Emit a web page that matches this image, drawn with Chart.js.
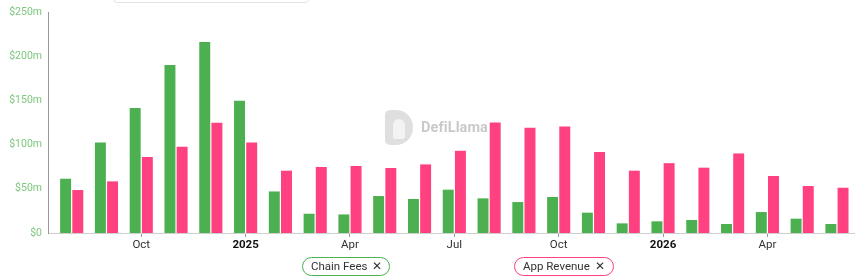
<!DOCTYPE html>
<html>
<head>
<meta charset="utf-8">
<script src="https://cdn.jsdelivr.net/npm/chart.js@4.4.1/dist/chart.umd.min.js"></script>
<style>
  html, body { margin: 0; padding: 0; background: #fff; }
  #wrap { position: relative; width: 860px; height: 277px; overflow: hidden; font-family: Roboto, "Open Sans", sans-serif; }
  #c { position: absolute; left: 0; top: 0; }
  .topbox { position: absolute; left: 113px; top: -20px; width: 194px; height: 21px; border: 1px solid #e2e2e2; border-radius: 4px; }
  .pill { position: absolute; top: 257px; height: 17px; border-radius: 11px; box-sizing: content-box; font-size: 11.5px; color: #333; line-height: 17px; padding: 0 0 0 8px; white-space: nowrap; }
  .pill .x { position: absolute; top: 0; font-size: 11.5px; color: #333; }
  .wm { position: absolute; left: 385px; top: 110px; width: 110px; height: 36px; opacity: 0.9; }
  .wm .logo { position: absolute; left: 0; top: 0; width: 28px; height: 35px; background: #dcdcdc; border-radius: 5px 17px 17px 5px; }
  .wm .logo .face { position: absolute; left: 8px; top: 9px; width: 12px; height: 20px; background: #f2f2f2; border-radius: 6px 6px 2px 2px; }
  .wm .txt { position: absolute; left: 36px; top: 9px; font-size: 14.5px; font-weight: bold; color: #c4c4c4; letter-spacing: 0.1px; }
</style>
</head>
<body>
<div id="wrap">
  <canvas id="c" width="860" height="277"></canvas>
  <div class="topbox"></div>
  <div class="wm"><div class="logo"><div class="face"></div></div><div class="txt">DefiLlama</div></div>
  <div class="pill" id="p1" style="left:302px;width:78px;border:1.5px solid #4caf50;">Chain Fees<span class="x" style="left:69px;">✕</span></div>
  <div class="pill" id="p2" style="left:514px;width:90px;border:1.5px solid #ff4081;">App Revenue<span class="x" style="left:80px;">✕</span></div>
</div>
<script>
const months = ['Aug','Sep','Oct','Nov','Dec','2025','Feb','Mar','Apr','May','Jun','Jul','Aug','Sep','Oct','Nov','Dec','2026','Feb','Mar','Apr','May','Jun'];
const chainFees = [61.4,102.5,141.4,190,216,149.7,47,21.8,21,41.8,38.5,49,39.2,35,40.7,23,10.9,13.2,14.7,10.2,23.7,16.2,10.2];
const appRevenue = [48.6,58.4,86,97.6,124.8,102.5,70.5,74.7,75.8,73.5,77.6,93,125,119,120.6,91.6,70.5,79,73.9,90,64.5,53.2,51.2];
const yTicks = [0,50,100,150,200,250];

const toPts = arr => arr.map((v, i) => ({ x: i, y: v }));
const isYear = s => /^\d{4}$/.test(s || '');
const tickYear = ctx => !!(ctx && ctx.tick && isYear(months[ctx.tick.value]));

new Chart(document.getElementById('c'), {
  type: 'bar',
  data: {
    datasets: [
      { label: 'Chain Fees', data: toPts(chainFees), backgroundColor: '#4caf50', categoryPercentage: 0.70, barPercentage: 0.90 },
      { label: 'App Revenue', data: toPts(appRevenue), backgroundColor: '#ff4081', categoryPercentage: 0.70, barPercentage: 0.90 }
    ]
  },
  options: {
    responsive: false,
    animation: false,
    layout: { padding: { top: 12, right: 6, bottom: 24, left: 0 } },
    plugins: { legend: { display: false }, tooltip: { enabled: false } },
    scales: {
      x: {
        type: 'linear',
        min: -0.681,
        max: 22.49,
        offset: false,
        afterBuildTicks: s => { s.ticks = months.map((m, i) => ({ value: i })).filter(t => t.value % 3 === 2); },
        afterFit: s => { s.height = 20; },
        grid: { offset: false, drawOnChartArea: false, drawTicks: true, tickLength: 4, color: '#999' },
        border: { display: true, color: '#d0d0d0', width: 1 },
        ticks: {
          autoSkip: false,
          maxRotation: 0,
          padding: 1,
          callback: v => months[v],
          color: ctx => tickYear(ctx) ? '#111' : '#333',
          font: ctx => ({ family: 'Roboto, sans-serif', size: 11.5, weight: tickYear(ctx) ? 'bold' : 'normal' })
        }
      },
      y: {
        min: 0,
        max: 250,
        afterBuildTicks: s => { s.ticks = yTicks.map(v => ({ value: v })); },
        afterFit: s => { s.width = 48; },
        grid: { display: false },
        border: { display: true, color: '#999', dash: [4, 5], width: 1 },
        ticks: {
          padding: -2,
          color: '#7cc67c',
          font: { family: 'Roboto, sans-serif', size: 10.5 },
          callback: v => v === 0 ? '$0' : '$' + v + 'm'
        }
      }
    }
  }
});
</script>
</body>
</html>
